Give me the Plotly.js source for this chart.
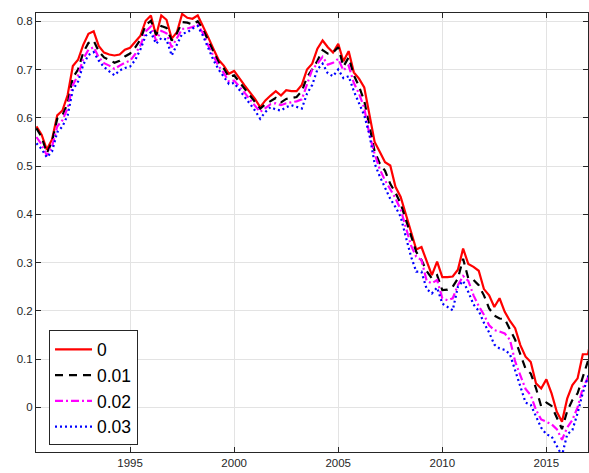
<!DOCTYPE html>
<html>
<head>
<meta charset="utf-8">
<script src="https://cdn.plot.ly/plotly-3.0.1.min.js"></script>
<style>html,body{margin:0;padding:0;background:#fff;}#chart{width:589px;height:473px;}</style>
</head>
<body>
<div id="chart"></div>
<script>
// Quarterly observations starting 1990.5
const startYear = 1990.5;
const seriesNames = ["0", "0.01", "0.02", "0.03"];

const s0 = [0.582,0.565,0.534,0.555,0.605,0.615,0.647,0.707,0.720,0.751,
  0.774,0.779,0.748,0.735,0.731,0.729,0.731,0.741,0.745,0.757,
  0.770,0.801,0.812,0.770,0.812,0.803,0.764,0.777,0.815,0.807,
  0.805,0.812,0.791,0.767,0.743,0.720,0.708,0.691,0.697,0.681,
  0.667,0.653,0.639,0.622,0.636,0.646,0.655,0.646,0.657,0.655,
  0.655,0.668,0.700,0.712,0.743,0.760,0.746,0.735,0.753,0.717,
  0.738,0.694,0.681,0.663,0.605,0.550,0.529,0.508,0.501,0.457,
  0.436,0.401,0.362,0.327,0.332,0.303,0.274,0.302,0.270,0.270,
  0.271,0.285,0.329,0.297,0.291,0.283,0.245,0.232,0.208,0.226,
  0.198,0.179,0.164,0.129,0.105,0.094,0.050,0.039,0.058,0.029,
  -0.009,-0.030,0.018,0.046,0.060,0.110,0.110,0.165];

const s1 = [0.578,0.560,0.527,0.550,0.598,0.605,0.630,0.683,0.700,0.735,
  0.755,0.760,0.737,0.725,0.720,0.714,0.718,0.727,0.733,0.746,
  0.762,0.792,0.801,0.772,0.790,0.786,0.760,0.775,0.798,0.797,
  0.793,0.800,0.783,0.760,0.737,0.715,0.702,0.684,0.688,0.674,
  0.661,0.648,0.633,0.619,0.628,0.634,0.641,0.632,0.639,0.641,
  0.643,0.655,0.684,0.700,0.718,0.740,0.733,0.735,0.746,0.706,
  0.725,0.688,0.665,0.635,0.584,0.530,0.505,0.490,0.463,0.445,
  0.422,0.390,0.355,0.322,0.305,0.282,0.267,0.274,0.243,0.244,
  0.250,0.267,0.308,0.267,0.264,0.253,0.232,0.205,0.190,0.184,
  0.183,0.163,0.140,0.110,0.080,0.070,0.040,0.002,0.010,0.003,
  -0.020,-0.045,-0.008,0.015,0.029,0.062,0.093,0.130];

const s2 = [0.560,0.545,0.522,0.540,0.582,0.595,0.620,0.668,0.688,0.722,
  0.741,0.746,0.725,0.713,0.708,0.701,0.708,0.714,0.718,0.732,
  0.750,0.779,0.789,0.760,0.780,0.775,0.746,0.765,0.784,0.785,
  0.788,0.793,0.775,0.750,0.728,0.707,0.693,0.675,0.677,0.665,
  0.652,0.638,0.624,0.612,0.620,0.628,0.630,0.626,0.630,0.632,
  0.634,0.638,0.668,0.700,0.712,0.726,0.710,0.714,0.722,0.698,
  0.708,0.672,0.650,0.620,0.565,0.525,0.493,0.470,0.452,0.433,
  0.410,0.375,0.335,0.312,0.305,0.262,0.257,0.264,0.226,0.222,
  0.226,0.253,0.272,0.262,0.232,0.210,0.192,0.170,0.160,0.157,
  0.153,0.140,0.095,0.066,0.038,0.025,-0.005,-0.025,-0.030,-0.035,
  -0.045,-0.067,-0.042,-0.026,0.000,0.040,0.062,0.100];

const s3 = [0.547,0.535,0.518,0.530,0.570,0.582,0.605,0.658,0.675,0.710,
  0.730,0.736,0.718,0.705,0.696,0.688,0.698,0.703,0.706,0.720,
  0.742,0.770,0.777,0.753,0.765,0.762,0.729,0.752,0.774,0.777,
  0.785,0.790,0.770,0.745,0.720,0.700,0.685,0.670,0.672,0.658,
  0.645,0.630,0.615,0.598,0.612,0.622,0.617,0.615,0.622,0.626,
  0.622,0.619,0.650,0.668,0.700,0.712,0.692,0.686,0.700,0.682,
  0.686,0.655,0.630,0.605,0.565,0.505,0.478,0.455,0.432,0.415,
  0.395,0.353,0.312,0.281,0.281,0.245,0.236,0.248,0.215,0.208,
  0.201,0.250,0.262,0.239,0.213,0.200,0.175,0.155,0.130,0.122,
  0.119,0.110,0.075,0.040,0.010,0.005,-0.020,-0.042,-0.056,-0.060,
  -0.080,-0.100,-0.056,-0.047,-0.012,0.030,0.063,0.100];

const xTickVals = [1995, 2000, 2005, 2010, 2015];
const xTickText = ["1995", "2000", "2005", "2010", "2015"];
const yTickVals = [0, 0.1, 0.2, 0.3, 0.4, 0.5, 0.6, 0.7, 0.8];
const yTickText = ["0", "0.1", "0.2", "0.3", "0.4", "0.5", "0.6", "0.7", "0.8"];

const dates = s0.map((_, i) => startYear + 0.25 * i);

const styles = [
  {color: "#ff0000", dash: "solid", width: 2.2},
  {color: "#000000", dash: "8px,6px", width: 2.2},
  {color: "#ff00ff", dash: "8px,3px,2px,3px", width: 2.2},
  {color: "#0000ff", dash: "2px,3px", width: 2.2}
];
const allSeries = [s0, s1, s2, s3];

const traces = allSeries.map((s, k) => ({
  x: dates, y: s, type: "scatter", mode: "lines", name: seriesNames[k],
  line: {color: styles[k].color, dash: styles[k].dash, width: styles[k].width}
}));

const axisCommon = {
  showline: true, linecolor: "#262626", linewidth: 1, mirror: "ticks",
  ticks: "inside", ticklen: 5, tickcolor: "#262626", tickwidth: 1,
  showgrid: true, gridcolor: "#e3e3e3", gridwidth: 1, zeroline: false,
  tickfont: {family: "Liberation Sans, Arial, sans-serif", size: 11.5, color: "#262626"}
};

const layout = {
  width: 589, height: 473,
  margin: {l: 36, r: 1, t: 12.5, b: 21, pad: 0},
  paper_bgcolor: "#ffffff", plot_bgcolor: "#ffffff",
  showlegend: true,
  legend: {
    x: 0.0236, y: 0.015, xanchor: "left", yanchor: "bottom",
    bordercolor: "#262626", borderwidth: 1, bgcolor: "#ffffff",
    font: {family: "Liberation Sans, Arial, sans-serif", size: 17.5, color: "#000000"},
    tracegroupgap: 0, itemwidth: 37
  },
  xaxis: Object.assign({}, axisCommon, {
    range: [1990.48, 2017.0], tickvals: xTickVals, ticktext: xTickText
  }),
  yaxis: Object.assign({}, axisCommon, {
    range: [-0.0925, 0.817], tickvals: yTickVals, ticktext: yTickText
  })
};

Plotly.newPlot("chart", traces, layout, {displayModeBar: false, staticPlot: true});
</script>
</body>
</html>
